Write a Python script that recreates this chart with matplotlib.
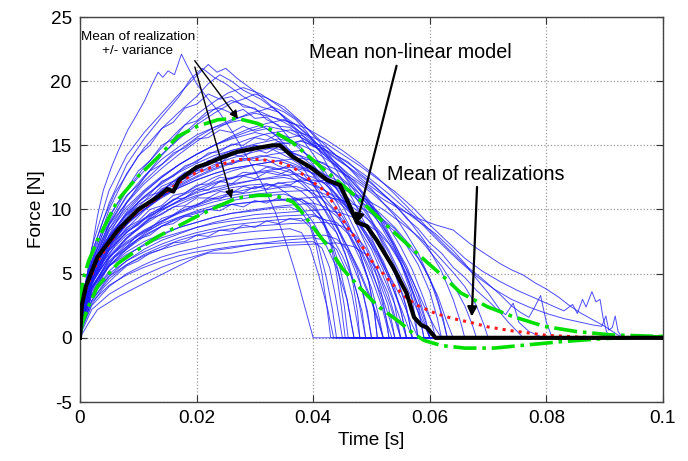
import matplotlib
matplotlib.use("Agg")
import matplotlib.pyplot as plt

plt.rcParams['font.family'] = ['Liberation Sans', 'DejaVu Sans']
plt.rcParams['axes.unicode_minus'] = False

# ---------------- data (time in ms, force in N) ----------------
realizations = [
    [[0,0],[0.5,2.5],[1.5,5.5],[3,9.5],[4,11.5],[5.4,13.3],[6.5,14.5],[8.2,16.2],[9.5,17.2],[11.1,18.5],[12.2,19.6],[13.4,20.7],[14.2,20.3],[15.1,20.8],[16.2,20.5],[17.4,22.1],[18.5,21.1],[20,19.8],[22,18.6],[24,17.5],[26.5,15.8],[29,13.8],[31.5,11.8],[33.5,9.8],[35.5,7.2],[37,5],[38.5,2.5],[40,0],[100,0]],
    [[0,0],[0.5,3],[2,7],[5,11.5],[8,14.2],[11,16],[14,17.5],[17,19],[19.5,20.2],[22,21.3],[23.5,20.7],[25,21],[27,20.2],[30,19.2],[33,18],[36,16.8],[39,15.4],[42,14.2],[45,13],[48,11.5],[51,9.5],[54,7],[57,4.5],[59.5,2],[61,0.7],[62,0],[100,0]],
    [[0,0],[0.5,2.5],[2,6.5],[5,10.5],[8,13.5],[11,15.5],[14,17.2],[17,18.8],[19,20.2],[21,21],[23,20.3],[25,19.8],[28,18.8],[31,18],[34,17.6],[37,16.6],[40,15.4],[43,14],[46,12.8],[49,11.8],[52,10.8],[55,10],[58,9.3],[61,8.8],[64,8.4],[67,7.3],[70,6.4],[72,5.8],[74,5.3],[76,4.9],[78,4.3],[80,3.8],[82,3.2],[84,2.5],[86,1.9],[88,1.4],[90,0.9],[92,0.3],[93,0],[100,0]],
    [[0,0],[0.5,2],[2,6],[5,10],[8,12.8],[11,14.8],[14,16.3],[17,17.6],[20,18.8],[22,19.8],[24,20.5],[26,20],[28,19.3],[31,18.6],[34,17.6],[37,16.2],[40,14.3],[43,12.3],[46,10.3],[49,8.2],[52,5.8],[55,3.2],[57,1],[58,0],[100,0]],
    [[0,0],[0.5,2],[2,5.5],[5,9],[8,11.5],[11,13.3],[14,14.8],[17,16.2],[20,17.4],[23,18.4],[25.5,19.1],[28,19.5],[31,19],[34,18.1],[37,17.1],[40,15.9],[43,14.6],[46,13.3],[49,12.1],[52,11.1],[55,10.1],[58,9.1],[61,8.1],[64,6.8],[66,5.8],[68,4.6],[70,3.5],[72,2.2],[73,1.8],[74.3,2.7],[75.3,1.2],[77,0.5],[79,0.1],[80,0],[100,0]],
    [[0,0],[0.5,3.5],[2,6.5],[5,9.5],[8,11.5],[11,13],[14,14.3],[17,15.5],[20,16.6],[23,17.5],[26,18.3],[28,18.6],[30,19],[32,18.7],[35,18],[38,16.8],[41,15.3],[44,13.5],[47,11.5],[50,9.2],[53,6.8],[56,4],[58,2],[60,0],[100,0]],
    [[0,0],[0.5,1.5],[2,4.5],[5,8],[8,10.5],[11,12.5],[14,14.2],[17,15.6],[20,16.8],[23,17.8],[26,18.5],[29,18],[32,17.4],[35,16.8],[38,16],[41,15],[44,14],[47,13],[50,12],[53,10.8],[56,9.4],[59,7.6],[62,5.2],[64,3],[65.3,1.2],[66,0],[100,0]],
    [[0,0],[0.5,3],[2,6],[5,8.8],[8,10.5],[11,12],[14,13.2],[17,14.3],[20,15.3],[23,16.2],[26,16.9],[29,17.5],[31,17.7],[33,18],[35,17.6],[37,17],[39,16],[41,14.6],[43,13],[45,11.2],[47,9.3],[49,7.3],[51,5.2],[53,2.8],[54.3,1],[55,0],[100,0]],
    [[0,0],[0.5,2],[2,5],[5,8.5],[8,10.6],[11,12.2],[14,13.5],[17,14.6],[20,15.6],[23,16.4],[26,17],[30,17.5],[33,17.2],[36,16.8],[39,16.3],[42,15.5],[45,14.6],[48,13.6],[51,12.5],[54,11.2],[57,9.8],[60,8.4],[63,7],[66,5.7],[69,4.6],[72,3.4],[74,2.5],[75.5,2.0],[77,1.6],[78,2.4],[79,3.3],[80,1.2],[81,0],[100,0]],
    [[0,0],[0.5,2.5],[2,5.5],[5,8.3],[8,10],[11,11.4],[14,12.5],[17,13.5],[20,14.3],[23,15],[26,15.7],[29,16.3],[32,16.7],[35,17],[37,16.6],[39,15.9],[41,15],[43,13.8],[45,12.3],[47,10.6],[49,8.8],[51,6.8],[53,4.6],[55,2.4],[56.3,0.8],[57,0],[100,0]],
    [[0,0],[0.5,2],[2,5.3],[5,8.8],[8,11],[11,12.6],[14,13.9],[17,14.9],[20,15.8],[23,16.4],[26,16.8],[28,17],[30,16.8],[32,16.3],[34,15.6],[36,14.6],[38,13.4],[40,12],[42,10.5],[44,8.8],[46,7],[48,5],[50,2.8],[51.3,1],[52,0],[100,0]],
    [[0,0],[0.5,1.8],[2,4.8],[5,7.8],[8,9.8],[11,11.3],[14,12.5],[17,13.5],[20,14.3],[23,15],[26,15.6],[29,16.1],[32,16.5],[35,16.2],[38,15.6],[41,14.7],[44,13.6],[47,12.2],[50,10.5],[52,9],[54,7.3],[56,5.3],[58,3],[59.3,1.2],[60,0],[100,0]],
    [[0,0],[0.5,2.2],[2,5],[5,7.8],[8,9.6],[11,11],[14,12.1],[17,13],[20,13.8],[23,14.5],[26,15],[29,15.5],[32,15.9],[36,16.2],[39,15.8],[42,15.2],[45,14.3],[48,13.4],[51,12.4],[54,11.4],[57,10.2],[60,8.8],[63,7.5],[66,6.2],[69,5.2],[72,4.4],[75,3.7],[78,3.1],[81,2.5],[83,2.1],[84.5,2.6],[85.3,1.9],[86.2,3.0],[86.8,2.4],[87.8,3.6],[88.5,2.8],[89.2,3.0],[89.7,1.6],[90.3,0.5],[91,0],[100,0]],
    [[0,0],[0.5,3],[2,5.8],[5,8.5],[8,10.2],[11,11.5],[14,12.6],[17,13.5],[20,14.3],[23,15],[26,15.5],[30,16],[32,15.8],[34,15.3],[36,14.6],[38,13.7],[40,12.7],[42,11.5],[44,10.2],[46,8.7],[48,7],[50,5.1],[52,3],[53.3,1.2],[54,0],[100,0]],
    [[0,0],[0.5,1.5],[2,4.3],[5,7],[8,8.9],[11,10.3],[14,11.5],[17,12.5],[20,13.3],[23,14],[26,14.6],[30,15.1],[34,15.5],[37,15.2],[40,14.6],[43,13.7],[46,12.5],[49,11],[51,9.6],[53,8],[55,6],[57,3.6],[58.3,1.5],[59,0],[100,0]],
    [[0,0],[0.5,2],[2,4.6],[5,7.2],[8,8.9],[11,10.2],[14,11.3],[17,12.2],[20,13],[23,13.7],[26,14.2],[30,14.8],[34,15.1],[38,15.3],[41,14.9],[44,14.2],[47,13.3],[50,12.3],[53,11.2],[56,10],[59,8.7],[62,7.3],[65,6],[68,4.8],[71,3.8],[74,3],[77,2.4],[80,1.9],[83,1.5],[86,1.2],[88,1.0],[89.5,0.9],[90.2,1.7],[90.7,0.6],[91.3,0.8],[91.8,1.7],[92.3,0.5],[93,0],[100,0]],
    [[0,0],[0.5,2.8],[2,5.5],[5,8],[8,9.7],[11,11],[14,12],[17,12.9],[20,13.6],[23,14.2],[26,14.6],[30,15],[33,14.7],[36,14],[39,13.1],[42,12],[45,10.6],[47,9.4],[49,8],[51,6.5],[53,4.7],[55,2.2],[56,0],[100,0]],
    [[0,0],[0.5,1.7],[2,4.2],[5,6.8],[8,8.5],[11,9.9],[14,11],[17,12],[20,12.8],[23,13.5],[26,14],[30,14.5],[33,14.8],[36,14.5],[39,14],[42,13.3],[45,12.4],[48,11.2],[51,9.8],[53,8.6],[55,7.1],[57,5.3],[59,3],[60.3,1.2],[61,0],[100,0]],
    [[0,0],[0.5,2.5],[2,5],[5,7.4],[8,8.9],[11,10],[14,11],[17,11.8],[20,12.5],[23,13.1],[26,13.6],[30,14],[33,14.3],[36,14.5],[38,14.1],[40,13.4],[42,12.4],[44,11.1],[46,9.5],[48,7.6],[50,5.4],[51.8,2.8],[52.8,1],[53.5,0],[100,0]],
    [[0,0],[0.5,2],[2,4.7],[5,7.2],[8,8.8],[11,10],[14,11],[17,11.9],[20,12.6],[23,13.2],[26,13.7],[31,14.2],[34,14],[37,13.5],[40,12.8],[43,12],[46,10.9],[49,9.5],[51,8.2],[53,6.6],[55,4.6],[57,2.2],[58,0],[100,0]],
    [[0,0],[0.5,1.3],[2,3.7],[5,6.2],[8,7.8],[11,9],[14,10.1],[17,11],[20,11.8],[23,12.5],[26,13],[30,13.5],[34,13.8],[38,14],[41,13.7],[44,13.1],[47,12.3],[50,11.3],[53,10.1],[56,8.8],[59,7.3],[62,5.6],[64,4.2],[66,2.5],[67.3,1],[68,0],[100,0]],
    [[0,0],[0.5,2.6],[2,5.2],[5,7.5],[8,8.9],[11,10],[14,10.9],[17,11.7],[20,12.3],[23,12.8],[26,13.2],[30,13.5],[34,13.8],[36,13.5],[38,12.9],[40,11.9],[42,10.5],[44,8.7],[46,6.6],[48,4.3],[49.3,2.1],[50,0],[100,0]],
    [[0,0],[0.5,3.2],[2,5.8],[5,7.9],[8,9.2],[11,10.2],[14,11],[17,11.7],[20,12.3],[23,12.8],[26,13.2],[30,13.5],[33,13.3],[36,12.9],[39,12.3],[42,11.5],[45,10.5],[48,9.2],[50,8.1],[52,6.8],[54,5],[56,2.4],[57,0],[100,0]],
    [[0,0],[0.5,1.5],[2,3.9],[5,6.2],[8,7.7],[11,8.9],[14,9.9],[17,10.7],[20,11.4],[23,12],[26,12.4],[30,12.9],[33,13.1],[36,13.3],[39,13],[42,12.5],[45,11.8],[48,10.9],[51,9.9],[54,8.6],[57,7],[59,5.5],[61,3.5],[62.3,1.5],[63,0],[100,0]],
    [[0,0],[0.5,2.2],[2,4.6],[5,6.8],[8,8.2],[11,9.3],[14,10.2],[17,11],[20,11.6],[23,12.1],[26,12.5],[30,12.8],[33,13],[36,12.6],[38,12],[40,11.1],[42,10],[44,8.6],[46,7],[48,5.2],[50,3],[51.3,1.2],[52,0],[100,0]],
    [[0,0],[0.5,1.8],[2,4.2],[5,6.4],[8,7.8],[11,8.8],[14,9.7],[17,10.4],[20,11],[23,11.5],[26,11.9],[30,12.3],[34,12.6],[38,12.8],[40,12.5],[42,12],[44,11.2],[46,10.1],[48,8.8],[50,7.2],[52,5.3],[53.8,3],[54.6,1],[55,0],[100,0]],
    [[0,0],[0.5,2.4],[2,4.8],[5,6.9],[8,8.2],[11,9.2],[14,10],[17,10.7],[20,11.3],[23,11.7],[26,12],[30,12.3],[35,12.5],[38,12.2],[41,11.7],[44,11],[47,10.1],[50,9],[52,8],[54,6.7],[56,5],[58,2.5],[59,0],[100,0]],
    [[0,0],[0.5,1.2],[2,3.3],[5,5.6],[8,7],[11,8.1],[14,9],[17,9.8],[20,10.4],[23,10.9],[26,11.3],[30,11.7],[35,12.1],[40,12.3],[43,12],[46,11.5],[49,10.8],[52,10],[55,9],[58,7.9],[61,6.6],[64,5.1],[66,4],[68,2.5],[69.3,1],[70,0],[100,0]],
    [[0,0],[0.5,2.8],[2,5.2],[5,7.2],[8,8.4],[11,9.3],[14,10],[17,10.6],[20,11.1],[23,11.4],[26,11.7],[29,11.9],[32,12],[34,11.7],[36,11.1],[38,10.2],[40,9],[42,7.4],[44,5.5],[45.8,3],[46.6,1],[47,0],[100,0]],
    [[0,0],[0.5,1.6],[2,3.9],[5,6],[8,7.3],[11,8.3],[14,9.1],[17,9.8],[20,10.3],[23,10.8],[26,11.1],[30,11.4],[34,11.7],[37,11.8],[39,11.5],[41,11],[43,10.2],[45,9.2],[47,8],[49,6.5],[51,4.8],[52.8,2.6],[53.6,1],[54,0],[100,0]],
    [[0,0],[0.5,2],[2,4.3],[5,6.3],[8,7.5],[11,8.4],[14,9.1],[17,9.7],[20,10.2],[23,10.6],[26,10.9],[30,11.2],[35,11.4],[40,11.5],[42,11.2],[44,10.7],[46,9.9],[48,8.9],[50,7.6],[52,6],[54,3.8],[55.3,1.6],[56,0],[100,0]],
    [[0,0],[0.5,1.4],[2,3.6],[5,5.6],[8,6.9],[11,7.9],[14,8.7],[17,9.4],[20,9.9],[23,10.3],[26,10.7],[30,11],[35,11.2],[37,10.9],[39,10.3],[41,9.3],[43,8],[45,6.4],[47,4.3],[48.4,2],[49,0],[100,0]],
    [[0,0],[0.5,1.9],[2,4],[5,5.9],[8,7.1],[11,8],[14,8.7],[17,9.3],[20,9.7],[23,10.1],[26,10.4],[30,10.6],[35,10.8],[42,11],[45,10.7],[48,10.2],[51,9.4],[54,8.3],[56,7.2],[58,5.7],[60,3.6],[61.3,1.5],[62,0],[100,0]],
    [[0,0],[0.5,2.3],[2,4.5],[5,6.3],[8,7.4],[11,8.2],[14,8.9],[17,9.4],[20,9.8],[23,10.1],[26,10.4],[30,10.6],[34,10.7],[38,10.8],[40,10.3],[41.5,9.3],[43,7.6],[44.3,5.2],[45.3,2.6],[46,0],[100,0]],
    [[0,0],[0.5,1.3],[2,3.3],[5,5.2],[8,6.4],[11,7.3],[14,8],[17,8.6],[20,9],[23,9.4],[26,9.7],[30,10],[35,10.3],[40,10.5],[42,10.2],[44,9.5],[46,8.3],[48,6.6],[49.5,4.4],[50.5,2],[51,0],[100,0]],
    [[0,0],[0.5,1.7],[2,3.8],[5,5.6],[8,6.7],[11,7.5],[14,8.1],[17,8.6],[20,9],[23,9.4],[26,9.7],[30,9.9],[33,10.1],[36,10.2],[38,9.8],[39.5,8.8],[41,7],[42.3,4.6],[43.3,2.2],[44,0],[100,0]],
    [[0,0],[0.5,1],[2,2.9],[5,4.8],[8,6],[11,6.9],[14,7.6],[17,8.1],[20,8.6],[23,9],[26,9.3],[30,9.6],[36,9.8],[42,10],[45,9.7],[48,9.2],[51,8.3],[53,7.3],[55,5.8],[56.8,3.5],[57.6,1.3],[58,0],[100,0]],
    [[0,0],[0.5,2],[2,4],[5,5.6],[8,6.5],[11,7.2],[14,7.8],[17,8.2],[20,8.6],[23,8.9],[26,9.1],[30,9.3],[35,9.5],[40,9.6],[42,9.2],[44,8.2],[45.5,6.6],[46.8,4.3],[47.6,2],[48,0],[100,0]],
    [[0,0],[0.5,1.5],[2,3.4],[5,5],[8,6],[11,6.7],[14,7.3],[17,7.8],[20,8.2],[23,8.5],[26,8.8],[30,9],[34,9.2],[38,9.3],[39.5,8.6],[40.5,7.2],[41.5,5],[42.3,2.6],[43,0],[100,0]],
    [[0,0],[0.5,1.1],[2,2.9],[5,4.6],[8,5.7],[11,6.5],[14,7.1],[17,7.6],[20,8],[23,8.3],[26,8.5],[30,8.7],[36,8.9],[42,9],[45,8.7],[47,8.1],[49,7],[50.5,5.5],[51.8,3.3],[52.6,1.3],[53,0],[100,0]],
    [[0,0],[0.5,1.6],[2,3.3],[5,4.8],[8,5.7],[11,6.4],[14,6.9],[17,7.3],[20,7.6],[23,7.9],[26,8.1],[30,8.3],[33,8.4],[36,8.5],[38,8.2],[39.5,7],[41,4.8],[42.5,2.2],[43.5,0],[100,0]],
    [[0,0],[0.5,0.9],[2,2.5],[5,4],[8,5],[11,5.7],[14,6.3],[17,6.7],[20,7],[23,7.3],[26,7.5],[30,7.7],[36,7.9],[42,8],[44,7.7],[46,6.8],[47.5,5.3],[48.7,3.2],[49.5,1.3],[50,0],[100,0]],
    [[0,0],[0.5,1.3],[2,2.8],[5,4.1],[8,4.9],[11,5.5],[14,6],[17,6.4],[20,6.7],[23,6.9],[26,7.1],[30,7.3],[35,7.4],[40,7.5],[41.5,7],[42.8,5.5],[43.8,3.3],[44.5,1.4],[45,0],[100,0]],
    [[0,0],[0.5,0.4],[1.4,1.1],[3,2.2],[6.5,3.2],[11,4.25],[15.6,5.3],[20,6.3],[22,6.6],[26,6.6],[30,6.9],[35,7.2],[40,7.3],[44,7.4],[47,7.1],[49,6.5],[51,5.3],[52.8,3.5],[54.2,1.4],[55,0],[100,0]],
    [[0,0],[0.5,0.7],[2,2.2],[5,3.4],[8,4.2],[11,4.9],[14,5.5],[17,6],[20,6.4],[23,6.8],[26,7],[30,7.3],[35,7.6],[40,7.8],[42,7.6],[44,6.9],[45.5,5.4],[46.7,3.3],[47.5,1.3],[48,0],[100,0]],
    [[0,0],[0.5,2.2],[2,5],[4,6.8],[6,8.4],[8,9.3],[10,10.4],[12,10.9],[14,11.8],[16,12.2],[18,12.9],[20,13.1],[22,13.8],[24,13.6],[26,14.3],[28,14.1],[30,14.7],[32,14.4],[34,14.9],[36,14.5],[38,14.6],[40,13.9],[42,13.6],[44,12.6],[46,11.9],[48,10.4],[50,9.1],[52,7.2],[54,5.1],[55.5,3.2],[56.5,1.2],[57,0],[100,0]],
    [[0,0],[0.5,1.6],[2,4.1],[4,5.9],[6,7.2],[8,8.3],[10,8.8],[12,9.7],[14,10.1],[16,10.8],[18,10.9],[20,11.6],[22,11.5],[24,12.2],[26,12.0],[28,12.6],[30,12.4],[32,12.9],[34,12.7],[36,13.1],[38,12.5],[40,12.1],[42,10.9],[44,9.8],[46,8.1],[48,6.2],[50,3.9],[51.3,1.6],[52,0],[100,0]],
    [[0,0],[0.5,2.9],[2,5.9],[4,8.2],[6,9.6],[8,11.1],[10,11.9],[12,13],[14,13.5],[16,14.4],[18,14.8],[20,15.5],[22,15.6],[24,16.2],[26,16.0],[28,16.5],[30,16.1],[32,16.3],[34,15.7],[36,15.4],[38,14.6],[40,13.9],[42,12.7],[44,11.6],[46,10.1],[48,8.4],[50,6.9],[52,4.8],[54,2.6],[55.3,1],[56,0],[100,0]],
    [[0,0],[0.5,1.9],[2,3.8],[4,5.2],[6,6.3],[8,6.9],[10,7.7],[12,8.0],[14,8.7],[16,8.9],[18,9.5],[20,9.4],[22,10.0],[24,9.9],[26,10.4],[28,10.2],[30,10.7],[32,10.5],[34,10.9],[36,10.6],[38,10.8],[40,10.1],[41.5,9.4],[43,7.8],[44.5,5.6],[45.8,3],[46.6,1],[47,0],[100,0]],
    [[0,0],[0.5,2.4],[2,5.7],[4,8.3],[6,10.2],[8,11.6],[10,13],[12,13.8],[14,15],[16,15.5],[18,16.6],[20,16.9],[22,17.7],[24,17.9],[26,17.5],[28,17.8],[30,17.1],[32,17.2],[34,16.5],[36,16.4],[38,15.6],[40,15.1],[42,14.2],[44,13.4],[46,12.3],[48,11.2],[50,9.9],[52,8.4],[54,6.8],[56,4.8],[58,2.5],[59.3,0.9],[60,0],[100,0]],
    [[0,0],[0.5,1.2],[2,3.4],[4,5.0],[6,6.4],[8,7.1],[10,8.1],[12,8.5],[14,9.3],[16,9.6],[18,10.2],[20,10.3],[22,10.9],[24,10.8],[26,11.4],[28,11.3],[30,11.8],[32,11.6],[34,12.1],[36,11.9],[38,12.4],[40,12.1],[42,12.3],[44,11.7],[46,11.4],[48,10.6],[50,10.1],[52,9.2],[54,8.5],[56,7.3],[58,6.2],[60,4.6],[61.5,3.1],[62.8,1.4],[64,0],[100,0]],
    [[0,0],[0.5,2.6],[2,5.4],[4,7.3],[6,8.5],[8,9.6],[10,10.2],[12,11.1],[14,11.4],[16,12.2],[18,12.4],[20,13],[22,13.1],[24,13.6],[26,13.5],[28,14],[30,13.8],[32,13.9],[34,13.4],[36,13.1],[38,12.2],[40,11.4],[42,9.9],[44,8.2],[46,5.9],[47.6,3.3],[48.5,1.2],[49,0],[100,0]],
    [[0,0],[0.5,1.0],[2,2.6],[4,3.9],[6,4.8],[8,5.6],[10,6.0],[12,6.6],[14,6.9],[16,7.4],[18,7.5],[20,8.0],[22,7.9],[24,8.4],[26,8.3],[28,8.8],[30,8.6],[32,9.1],[34,8.9],[36,9.3],[38,9.1],[40,9.5],[42,9.2],[44,9.0],[46,8.1],[48,6.6],[49.5,4.5],[50.5,2],[51,0],[100,0]],
    [[0,0],[0.5,1.8],[2,4.5],[4,6.7],[6,8.3],[8,9.4],[10,10.6],[12,11.2],[14,12.2],[16,12.6],[18,13.4],[20,13.7],[22,14.4],[24,14.5],[26,15.1],[28,15.0],[30,15.6],[32,15.4],[34,15.9],[36,15.6],[38,15.8],[40,15.2],[42,14.9],[44,14.2],[46,13.7],[48,12.8],[50,12.1],[52,11.2],[54,10.4],[56,9.3],[58,8.5],[60,7.4],[62,6.6],[64,5.5],[66,4.7],[68,3.7],[70,2.9],[72,2.0],[73.5,1.2],[75,0.5],[76,0],[100,0]],
    [[0,0],[0.5,2],[2,4.4],[4,6.4],[6,7.5],[8,8.6],[10,9.1],[12,10],[14,10.3],[16,11.1],[18,11.3],[20,11.9],[22,12],[24,12.5],[26,12.4],[28,12.9],[30,12.8],[32,13.3],[34,13.1],[36,13.5],[38,13.2],[40,13.3],[42,12.7],[44,12.3],[46,11.5],[48,10.8],[50,9.7],[52,8.6],[54,7.2],[56,5.6],[58,3.4],[59.3,1.4],[60,0],[100,0]],
    [[0,0],[0.5,3],[2,6.6],[4,9.2],[6,11.3],[8,12.7],[10,14.2],[12,15],[14,16.3],[16,16.8],[18,17.9],[20,18.2],[22,19.0],[24,18.6],[26,18.8],[28,18.0],[30,17.9],[32,17.0],[34,16.6],[36,15.5],[38,14.8],[40,13.5],[42,12.3],[44,10.6],[46,8.9],[48,6.9],[50,4.7],[51.8,2.4],[52.7,0.8],[53,0],[100,0]],
    [[0,0],[0.5,2.2],[2,4.4],[4,6],[6,7.1],[8,8],[10,8.5],[12,9.3],[14,9.6],[16,10.2],[18,10.3],[20,10.9],[22,10.9],[24,11.4],[26,11.3],[28,11.8],[30,11.6],[32,12],[34,11.8],[36,11.9],[38,11.4],[40,10.6],[41.5,9.3],[43,7.3],[44,5],[44.8,2.5],[45.5,0],[100,0]],
    [[0,0],[0.5,1.5],[2,4.2],[4,6.2],[6,7.8],[8,8.8],[10,10],[12,10.6],[14,11.6],[16,12],[18,12.8],[20,13.1],[22,13.8],[24,13.9],[26,14.5],[28,14.4],[30,15],[32,14.8],[34,15.3],[36,15.1],[38,15.4],[40,14.9],[42,14.6],[44,13.9],[46,13.3],[48,12.3],[50,11.6],[52,10.5],[54,9.5],[56,8.1],[58,6.6],[60,4.6],[61.5,2.6],[62.5,0.9],[63,0],[100,0]],
]

upper_t = [0, 0.5, 1.5, 3, 6.5, 10, 13.4, 16.8, 20.2, 23.7, 27, 30.5, 32.8, 36.5, 42.4, 48, 53.7, 59.5, 63, 65.3, 70, 74, 79.6, 85, 91, 100]
upper_f = [2.5, 4.5, 6, 7.6, 10.75, 12.6, 14.1, 15.7, 16.5, 17.0, 17.1, 16.7, 16.2, 15.2, 12.9, 10.75, 8.3, 5.9, 4.5, 3.5, 2.4, 1.7, 0.9, 0.5, 0.23, 0.1]

lower_t = [0, 0.5, 1.4, 3, 6.5, 10, 13.4, 16.8, 20.2, 23.7, 27, 30.5, 33.4, 36.5, 37.7, 40, 42.4, 45, 48, 51, 54.9, 57, 59, 62, 66, 71, 76.7, 82.5, 90, 100]
lower_f = [0.3, 1.3, 2.4, 4.0, 5.8, 6.9, 7.9, 8.7, 9.5, 10.25, 10.9, 11.1, 11.1, 10.6, 10.0, 8.6, 7.2, 5.4, 3.9, 2.5, 1.2, 0.4, -0.2, -0.6, -0.8, -0.8, -0.55, -0.3, -0.05, 0.1]

mean_real_t = [0, 0.3, 1, 3, 6.5, 10, 13.4, 17, 20, 24, 27.4, 31, 34, 36.5, 39.5, 42.4, 44, 46.3, 48, 50, 52, 54, 56, 58, 61, 64, 67, 70, 74, 80, 86, 100]
mean_real_f = [0, 2.5, 3.8, 6.0, 8.3, 9.9, 10.9, 12.1, 12.9, 13.5, 13.9, 13.9, 13.7, 13.3, 12.3, 11.3, 10.0, 8.3, 7.4, 6.0, 5.0, 4.0, 3.1, 2.5, 1.9, 1.5, 1.2, 0.85, 0.55, 0.2, 0.05, 0.0]

model_t = [0, 0.3, 1, 3, 6.5, 10, 13.4, 15, 16, 17, 20, 22, 24, 27, 30.5, 33, 34.3, 36.5, 39.5, 42.4, 44.6, 45.8, 47.5, 49.2, 50.9, 53.7, 56, 57.3, 58.5, 59.5, 61, 100]
model_f = [0, 2.5, 4, 6.3, 8.4, 10, 11, 11.6, 11.4, 12.3, 13.3, 13.6, 14, 14.5, 14.8, 15.0, 15.0, 14.1, 13.3, 12.3, 11.9, 10.75, 9.0, 8.7, 7.6, 5.5, 3.5, 1.6, 1.0, 0.8, 0, 0]

x_ticks = [0, 0.02, 0.04, 0.06, 0.08, 0.1]
x_tick_labels = ["0", "0.02", "0.04", "0.06", "0.08", "0.1"]
y_ticks = [-5, 0, 5, 10, 15, 20, 25]

# ---------------- figure ----------------
fig = plt.figure(figsize=(6.88, 4.61), dpi=100)
ax = fig.add_axes([80/688, 59/461, 583/688, 385/461])

for curve in realizations:
    ax.plot([p[0]/1000 for p in curve], [p[1] for p in curve],
            color='#1a1aff', lw=0.7, alpha=0.78, zorder=2)

green = '#00e000'
ax.plot([t/1000 for t in upper_t], upper_f, color=green, lw=2.6, ls='-.', zorder=3)
ax.plot([t/1000 for t in lower_t], lower_f, color=green, lw=2.6, ls='-.', zorder=3)
ax.plot([t/1000 for t in mean_real_t], mean_real_f, color='#ff1a1a', lw=2.2, ls=':', zorder=4)
ax.plot([t/1000 for t in model_t], model_f, color='black', lw=3.0, zorder=5)

ax.set_xlim(0, 0.1)
ax.set_ylim(-5, 25)
ax.set_xticks(x_ticks)
ax.set_xticklabels(x_tick_labels)
ax.set_yticks(y_ticks)
ax.grid(True, color='#9a9a9a', ls=':', lw=0.9)
ax.tick_params(direction='in', length=5, top=True, right=True, labelsize=13.7,
               pad=6, color='#333333')
for s in ax.spines.values():
    s.set_color('#444444')
    s.set_linewidth(1.0)
ax.set_xlabel('Time [s]', fontsize=13.7, labelpad=3)
ax.set_ylabel('Force [N]', fontsize=13.7, labelpad=4)

# annotations
ax.text(0.0099, 22.9, 'Mean of realization\n+/- variance', fontsize=9.7,
        ha='center', va='center', linespacing=1.25, zorder=6)
ax.annotate('', xy=(0.0271, 17.07), xytext=(0.01967, 21.6),
            arrowprops=dict(arrowstyle='-|>', color='black', lw=1.0,
                            mutation_scale=12, shrinkA=0, shrinkB=0), zorder=6)
ax.annotate('', xy=(0.0260, 10.85), xytext=(0.0197, 21.1),
            arrowprops=dict(arrowstyle='-|>', color='black', lw=1.0,
                            mutation_scale=12, shrinkA=0, shrinkB=0), zorder=6)

ax.text(0.0567, 22.2, 'Mean non-linear model', fontsize=14.2,
        ha='center', va='center', zorder=6)
ax.annotate('', xy=(0.04746, 8.9), xytext=(0.0543, 21.2),
            arrowprops=dict(arrowstyle='-|>', color='black', lw=1.6,
                            mutation_scale=14, shrinkA=0, shrinkB=0), zorder=6)

ax.text(0.0679, 12.7, 'Mean of realizations', fontsize=14.2,
        ha='center', va='center', zorder=6)
ax.annotate('', xy=(0.0672, 1.66), xytext=(0.0681, 11.76),
            arrowprops=dict(arrowstyle='-|>', color='black', lw=1.6,
                            mutation_scale=14, shrinkA=0, shrinkB=0), zorder=6)

fig.savefig('out.png', dpi=100)
